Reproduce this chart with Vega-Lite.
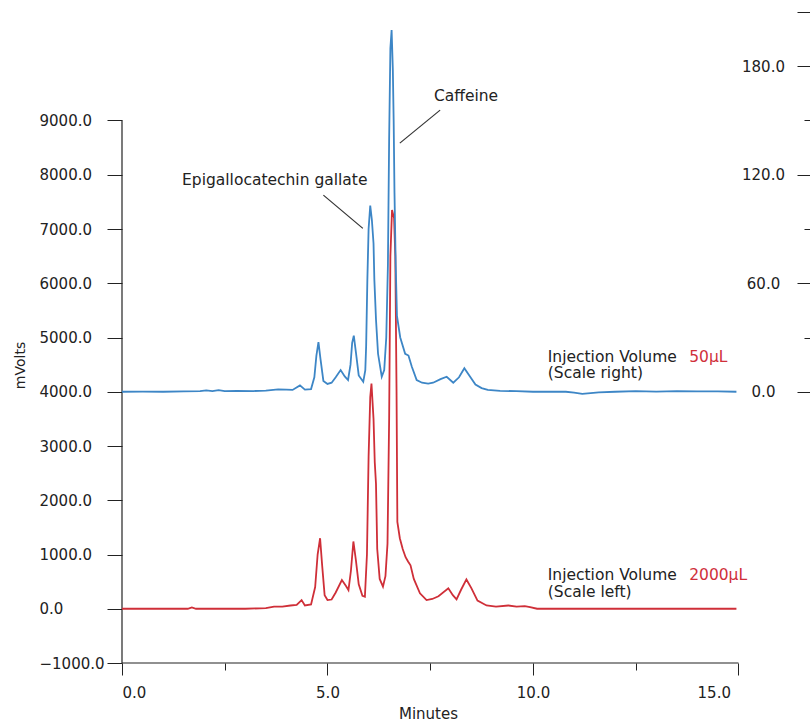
{
  "$schema": "https://vega.github.io/schema/vega-lite/v6.json",
  "description": "HPLC chromatogram of tea: 50 uL injection (scale right) and 2000 uL injection (scale left).",
  "autosize": {"type": "none"},
  "padding": {"left": 122, "top": 12, "right": 0, "bottom": 58},
  "width": 688,
  "height": 651,
  "config": {
    "font": "DejaVu Sans",
    "view": {"stroke": null},
    "axis": {"grid": false, "domain": false, "tickColor": "#222", "labelColor": "#222", "labelFontSize": 15, "titleFontWeight": "normal", "titleColor": "#222"}
  },
  "datasets": {
    "frame": [
      {"x": 0, "x2": 0, "y": -1000, "y2": 9000},
      {"x": 0, "x2": 15, "y": -1000, "y2": -1000}
    ],
    "leaders": [
      {"x": 4.90, "x2": 5.86, "y": 7625, "y2": 7012},
      {"x": 7.74, "x2": 6.76, "y": 9191, "y2": 8583}
    ],
    "notes": [
      {"x": 1.46, "y": 7903, "label": "Epigallocatechin gallate"},
      {"x": 7.59, "y": 9451, "label": "Caffeine"},
      {"x": 10.36, "y": 4646, "label": "Injection Volume"},
      {"x": 10.36, "y": 4340, "label": "(Scale right)"},
      {"x": 10.36, "y": 622, "label": "Injection Volume"},
      {"x": 10.36, "y": 314, "label": "(Scale left)"}
    ],
    "volumes": [
      {"x": 13.80, "y": 4646, "label": "50µL"},
      {"x": 13.80, "y": 622, "label": "2000µL"}
    ],
    "red": [
      {"t": 0, "v": 0}, {"t": 1.6, "v": 0}, {"t": 1.7, "v": 25}, {"t": 1.8, "v": 0}, {"t": 3.0, "v": 0},
      {"t": 3.5, "v": 10}, {"t": 3.7, "v": 40}, {"t": 3.9, "v": 40}, {"t": 4.1, "v": 60}, {"t": 4.25, "v": 70},
      {"t": 4.37, "v": 160}, {"t": 4.45, "v": 60}, {"t": 4.6, "v": 80}, {"t": 4.7, "v": 400}, {"t": 4.76, "v": 1000},
      {"t": 4.82, "v": 1300}, {"t": 4.87, "v": 800}, {"t": 4.93, "v": 250}, {"t": 5.0, "v": 160}, {"t": 5.1, "v": 170},
      {"t": 5.2, "v": 300}, {"t": 5.35, "v": 530}, {"t": 5.45, "v": 420}, {"t": 5.51, "v": 345}, {"t": 5.57, "v": 700},
      {"t": 5.63, "v": 1240}, {"t": 5.69, "v": 900}, {"t": 5.76, "v": 450}, {"t": 5.85, "v": 240}, {"t": 5.91, "v": 222},
      {"t": 5.96, "v": 1000}, {"t": 6.0, "v": 2800}, {"t": 6.04, "v": 3900}, {"t": 6.07, "v": 4150}, {"t": 6.12, "v": 3500},
      {"t": 6.15, "v": 2700}, {"t": 6.18, "v": 2300}, {"t": 6.21, "v": 1100}, {"t": 6.27, "v": 550}, {"t": 6.35, "v": 407},
      {"t": 6.41, "v": 600}, {"t": 6.46, "v": 1200}, {"t": 6.5, "v": 3500}, {"t": 6.53, "v": 6500}, {"t": 6.57, "v": 7350},
      {"t": 6.62, "v": 7200}, {"t": 6.65, "v": 6500}, {"t": 6.68, "v": 4000}, {"t": 6.7, "v": 1600}, {"t": 6.76, "v": 1300},
      {"t": 6.83, "v": 1100}, {"t": 6.9, "v": 950}, {"t": 6.96, "v": 870}, {"t": 7.02, "v": 800}, {"t": 7.1, "v": 550},
      {"t": 7.25, "v": 285}, {"t": 7.41, "v": 161}, {"t": 7.55, "v": 180}, {"t": 7.7, "v": 230}, {"t": 7.94, "v": 377},
      {"t": 8.05, "v": 250}, {"t": 8.14, "v": 174}, {"t": 8.25, "v": 350}, {"t": 8.38, "v": 540}, {"t": 8.5, "v": 380},
      {"t": 8.65, "v": 150}, {"t": 8.87, "v": 60}, {"t": 9.1, "v": 40}, {"t": 9.4, "v": 60}, {"t": 9.6, "v": 40},
      {"t": 9.8, "v": 50}, {"t": 9.93, "v": 30}, {"t": 10.1, "v": 0}, {"t": 12, "v": 0}, {"t": 14.95, "v": 0}
    ],
    "blue": [
      {"t": 0, "v": 0}, {"t": 0.5, "v": 0.1}, {"t": 1.0, "v": 0}, {"t": 1.5, "v": 0.2}, {"t": 1.9, "v": 0.3},
      {"t": 2.05, "v": 0.8}, {"t": 2.2, "v": 0.4}, {"t": 2.35, "v": 0.9}, {"t": 2.5, "v": 0.4}, {"t": 2.8, "v": 0.5},
      {"t": 3.2, "v": 0.4}, {"t": 3.5, "v": 0.6}, {"t": 3.8, "v": 1.3}, {"t": 4.0, "v": 1.2}, {"t": 4.15, "v": 1.0},
      {"t": 4.33, "v": 3.5}, {"t": 4.45, "v": 1.2}, {"t": 4.6, "v": 1.5}, {"t": 4.68, "v": 8}, {"t": 4.73, "v": 20},
      {"t": 4.78, "v": 27.5}, {"t": 4.83, "v": 18}, {"t": 4.9, "v": 6}, {"t": 5.0, "v": 4.3}, {"t": 5.1, "v": 5},
      {"t": 5.2, "v": 8}, {"t": 5.32, "v": 12}, {"t": 5.42, "v": 8.5}, {"t": 5.5, "v": 6.5}, {"t": 5.56, "v": 15},
      {"t": 5.6, "v": 27}, {"t": 5.64, "v": 31}, {"t": 5.69, "v": 22}, {"t": 5.76, "v": 9}, {"t": 5.87, "v": 5.5},
      {"t": 5.92, "v": 12}, {"t": 5.94, "v": 25}, {"t": 5.97, "v": 62}, {"t": 6.0, "v": 90}, {"t": 6.04, "v": 103},
      {"t": 6.08, "v": 95}, {"t": 6.12, "v": 82}, {"t": 6.14, "v": 62}, {"t": 6.18, "v": 40}, {"t": 6.23, "v": 21},
      {"t": 6.32, "v": 8.3}, {"t": 6.38, "v": 12}, {"t": 6.43, "v": 30}, {"t": 6.47, "v": 70}, {"t": 6.5, "v": 140},
      {"t": 6.53, "v": 190}, {"t": 6.56, "v": 200}, {"t": 6.59, "v": 178}, {"t": 6.61, "v": 150}, {"t": 6.63, "v": 110},
      {"t": 6.66, "v": 70}, {"t": 6.69, "v": 42}, {"t": 6.77, "v": 30}, {"t": 6.89, "v": 21}, {"t": 6.97, "v": 20},
      {"t": 7.05, "v": 14}, {"t": 7.17, "v": 6.5}, {"t": 7.3, "v": 5}, {"t": 7.45, "v": 4.5}, {"t": 7.57, "v": 5},
      {"t": 7.75, "v": 7}, {"t": 7.9, "v": 8.3}, {"t": 8.06, "v": 5}, {"t": 8.2, "v": 8}, {"t": 8.33, "v": 13},
      {"t": 8.45, "v": 9}, {"t": 8.6, "v": 4}, {"t": 8.75, "v": 2}, {"t": 8.9, "v": 1}, {"t": 9.2, "v": 0.5},
      {"t": 9.6, "v": 0.3}, {"t": 10.0, "v": 0}, {"t": 10.8, "v": 0}, {"t": 11.0, "v": -0.5}, {"t": 11.2, "v": -1.2},
      {"t": 11.4, "v": -0.8}, {"t": 11.6, "v": -0.3}, {"t": 12.0, "v": 0}, {"t": 12.5, "v": 0.3}, {"t": 13.0, "v": 0.1},
      {"t": 13.5, "v": 0.3}, {"t": 14.0, "v": 0.2}, {"t": 14.5, "v": 0.2}, {"t": 14.95, "v": 0}
    ]
  },
  "layer": [
    {
      "layer": [
        {
          "data": {"name": "frame"},
          "mark": {"type": "rule", "color": "#222", "strokeWidth": 1.2},
          "encoding": {
            "x": {"field": "x", "type": "quantitative", "scale": {"domain": [0, 16.74], "nice": false, "zero": false}},
            "x2": {"field": "x2"},
            "y": {"field": "y", "type": "quantitative", "scale": {"domain": [-1000, 11000], "nice": false, "zero": false}},
            "y2": {"field": "y2"}
          }
        },
        {
          "data": {"name": "red"},
          "mark": {"type": "line", "color": "#cf2f38", "strokeWidth": 1.8},
          "encoding": {
            "x": {
              "field": "t", "type": "quantitative",
              "scale": {"domain": [0, 16.74], "nice": false, "zero": false},
              "axis": {
                "values": [0, 2.5, 5, 7.5, 10, 12.5, 15],
                "labelExpr": "datum.value % 5 === 0 ? format(datum.value, '.1f') : ''",
                "tickSize": {"condition": {"test": "datum.value % 5 === 0", "value": 12}, "value": 7},
                "labelAlign": {"condition": [{"test": "datum.value === 0", "value": "left"}, {"test": "datum.value === 15", "value": "right"}], "value": "center"},
                "labelOffset": {"condition": {"test": "datum.value === 15", "value": -8}, "value": 0},
                "labelPadding": 10,
                "title": "Minutes",
                "titleX": 306,
                "titleY": 50,
                "titleBaseline": "middle",
                "titleFontSize": 15
              }
            },
            "y": {
              "field": "v", "type": "quantitative",
              "scale": {"domain": [-1000, 11000], "nice": false, "zero": false},
              "axis": {
                "values": [-1000, -500, 0, 500, 1000, 1500, 2000, 2500, 3000, 3500, 4000, 4500, 5000, 5500, 6000, 6500, 7000, 7500, 8000, 8500, 9000],
                "labelExpr": "datum.value % 1000 === 0 ? format(datum.value, '.1f') : ''",
                "tickSize": {"condition": {"test": "datum.value % 1000 === 0", "value": 15}, "value": 8},
                "labelAlign": "left",
                "labelPadding": 68,
                "title": "mVolts",
                "titleX": -102,
                "titleY": 353,
                "titleBaseline": "middle",
                "titleAlign": "center",
                "titleFontSize": 14
              }
            }
          }
        },
        {
          "data": {"name": "leaders"},
          "mark": {"type": "rule", "color": "#333", "strokeWidth": 1.2},
          "encoding": {
            "x": {"field": "x", "type": "quantitative", "scale": {"domain": [0, 16.74], "nice": false, "zero": false}},
            "x2": {"field": "x2"},
            "y": {"field": "y", "type": "quantitative", "scale": {"domain": [-1000, 11000], "nice": false, "zero": false}},
            "y2": {"field": "y2"}
          }
        },
        {
          "data": {"name": "notes"},
          "mark": {"type": "text", "align": "left", "baseline": "middle", "fontSize": 15.5, "color": "#222"},
          "encoding": {
            "x": {"field": "x", "type": "quantitative", "scale": {"domain": [0, 16.74], "nice": false, "zero": false}},
            "y": {"field": "y", "type": "quantitative", "scale": {"domain": [-1000, 11000], "nice": false, "zero": false}},
            "text": {"field": "label"}
          }
        },
        {
          "data": {"name": "volumes"},
          "mark": {"type": "text", "align": "left", "baseline": "middle", "fontSize": 15.5, "color": "#d0303a"},
          "encoding": {
            "x": {"field": "x", "type": "quantitative", "scale": {"domain": [0, 16.74], "nice": false, "zero": false}},
            "y": {"field": "y", "type": "quantitative", "scale": {"domain": [-1000, 11000], "nice": false, "zero": false}},
            "text": {"field": "label"}
          }
        }
      ]
    },
    {
      "data": {"name": "blue"},
      "mark": {"type": "line", "color": "#3d86c6", "strokeWidth": 1.8},
      "encoding": {
        "x": {"field": "t", "type": "quantitative", "scale": {"domain": [0, 16.74], "nice": false, "zero": false}},
        "y": {
          "field": "v", "type": "quantitative",
          "scale": {"domain": [-150, 210], "nice": false, "zero": false},
          "axis": {
            "orient": "left",
            "offset": -688,
            "values": [0, 30, 60, 90, 120, 150, 180, 210],
            "labelExpr": "datum.value % 60 === 0 && datum.value <= 180 ? format(datum.value, '.1f') : ''",
            "tickSize": {"condition": {"test": "datum.value % 60 === 0 || datum.value === 210", "value": 13}, "value": 6},
            "labelAlign": "center",
            "labelPadding": 34,
            "title": null
          }
        }
      }
    }
  ],
  "resolve": {"scale": {"y": "independent"}}
}
